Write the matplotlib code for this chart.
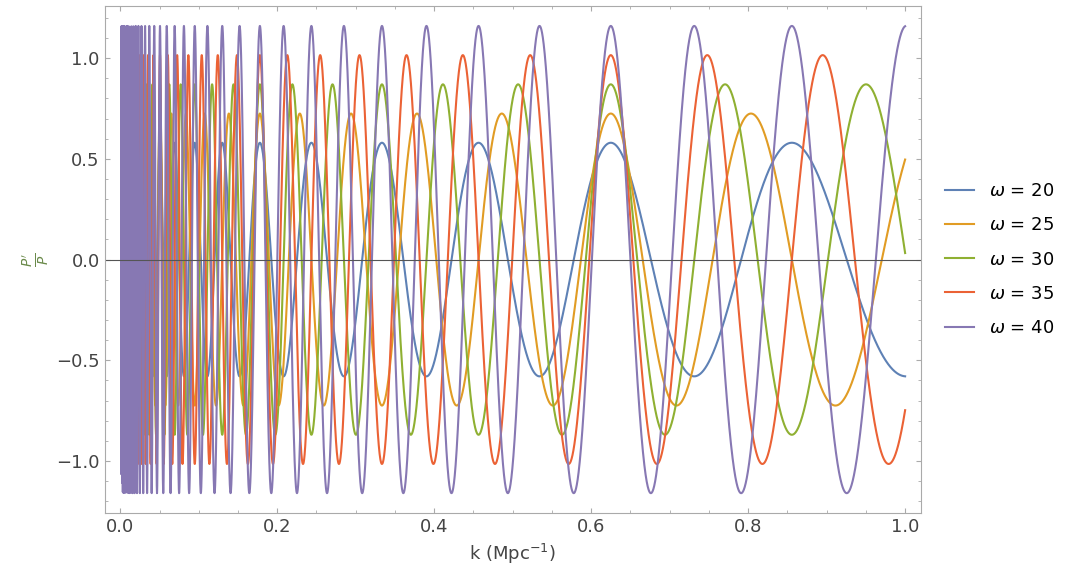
import numpy as np
import matplotlib
matplotlib.use("Agg")
import matplotlib.pyplot as plt
from matplotlib.ticker import MultipleLocator

omegas = [20, 25, 30, 35, 40]
amplitudes = [0.58, 0.725, 0.87, 1.015, 1.16]
pivot_k = 0.625
labels = [r"$\omega$ = %d" % w for w in omegas]
colors = ["#5E81B5", "#E19C24", "#8FB032", "#EB6235", "#8778B3"]

k = np.linspace(0.001, 1.0, 20000)
fig = plt.figure(figsize=(10.67, 5.8), dpi=100)
ax = fig.add_axes([0.098, 0.115, 0.765, 0.875])
for w, a, lab, c in zip(omegas, amplitudes, labels, colors):
    ax.plot(k, a*np.cos(w*np.log(k/pivot_k)), color=c, lw=1.5, label=lab)
ax.axhline(0, color="#555555", lw=0.8)
ax.set_xlim(-0.02, 1.02)
ax.set_ylim(-1.26, 1.26)
ax.xaxis.set_major_locator(MultipleLocator(0.2))
ax.xaxis.set_minor_locator(MultipleLocator(0.05))
ax.yaxis.set_major_locator(MultipleLocator(0.5))
ax.yaxis.set_minor_locator(MultipleLocator(0.1))
for s in ax.spines.values():
    s.set_color("#aaaaaa")
ax.tick_params(which="both", direction="in", colors="#aaaaaa", labelcolor="#444444", labelsize=13)
ax.tick_params(which="both", top=True, right=True)
ax.set_xlabel(r"k (Mpc$^{-1}$)", fontsize=13, color="#444444")
ax.set_ylabel(r"$\frac{P'}{P}$", fontsize=14, color="#6a8a4a", rotation=90)
ax.legend(loc="center left", bbox_to_anchor=(1.01, 0.5), frameon=False, fontsize=13,
          handlelength=1.6, labelspacing=0.9)
fig.savefig("out.png", dpi=100)
